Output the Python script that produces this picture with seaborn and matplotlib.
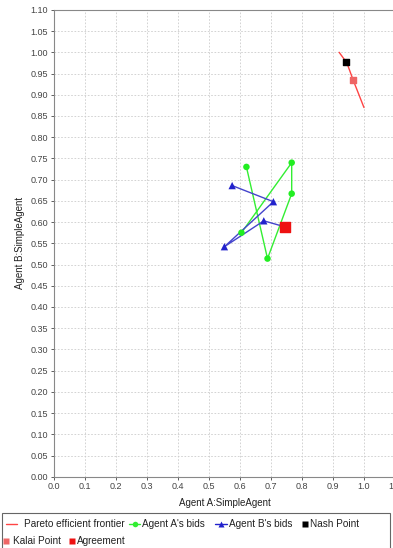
import numpy as np
import pandas as pd
import matplotlib
matplotlib.use("Agg")
import matplotlib.pyplot as plt
from matplotlib.lines import Line2D
from matplotlib.patches import Rectangle
import seaborn as sns

# data
pareto_x = [0.920, 0.945, 0.965, 1.000]
pareto_y = [1.000, 0.975, 0.935, 0.870]

a_bids_x = [0.621, 0.689, 0.767, 0.767, 0.605]
a_bids_y = [0.730, 0.514, 0.667, 0.740, 0.575]

b_bids_x = [0.575, 0.708, 0.550, 0.677]
b_bids_y = [0.686, 0.648, 0.542, 0.603]

nash = (0.942, 0.978)
kalai = (0.964, 0.935)
agreement = (0.744, 0.589)

sns.set_theme(style="white")
plt.rcParams['font.family'] = ['Liberation Sans', 'DejaVu Sans']

W, H = 393, 548
fig = plt.figure(figsize=(W / 100, H / 100), dpi=100)
ax = fig.add_axes([0.137, 0.130, 0.868, 0.852])

green = '#33ee33'
blue = '#2222cc'

pareto = pd.DataFrame({'x': pareto_x, 'y': pareto_y})
a_df = pd.DataFrame({'x': a_bids_x, 'y': a_bids_y})
b_df = pd.DataFrame({'x': b_bids_x, 'y': b_bids_y})

sns.lineplot(data=pareto, x='x', y='y', sort=False, estimator=None,
             color='#ff4444', lw=1, ax=ax)
sns.lineplot(data=a_df, x='x', y='y', sort=False, estimator=None,
             color=green, lw=1, ax=ax)
sns.scatterplot(data=a_df, x='x', y='y', color='#22ee22', marker='o', s=22,
                edgecolor='none', ax=ax, zorder=4)
# agent B bids end at the agreement
b_line = pd.concat([b_df, pd.DataFrame({'x': [agreement[0]], 'y': [agreement[1]]})],
                   ignore_index=True)
sns.lineplot(data=b_line, x='x', y='y', sort=False, estimator=None,
             color='#4444cc', lw=1, ax=ax)
sns.scatterplot(data=b_df, x='x', y='y', color=blue, marker='^', s=28,
                edgecolor='none', ax=ax, zorder=4)
ax.scatter([nash[0]], [nash[1]], marker='s', s=22, color='black', zorder=5)
ax.scatter([kalai[0]], [kalai[1]], marker='s', s=18, color='#ee6666', zorder=5)
ax.scatter([agreement[0]], [agreement[1]], marker='s', s=50, color='#ee1111', zorder=5)

ax.set_xlim(0, 1.1)
ax.set_ylim(0, 1.1)
ax.set_xticks(np.arange(0, 1.101, 0.1))
ax.set_xticklabels([f'{v:.1f}' for v in np.arange(0, 1.101, 0.1)])
ax.set_yticks(np.arange(0, 1.101, 0.05))
ax.set_yticklabels([f'{v:.2f}' for v in np.arange(0, 1.101, 0.05)])
ax.tick_params(labelsize=6.5, colors='#444444', length=2, width=0.6, pad=2,
               left=True, bottom=True)
ax.grid(True, color='#cccccc', linestyle=(0, (2, 2)), lw=0.6)
for s in ax.spines.values():
    s.set_color('#888888')
    s.set_linewidth(0.8)
ax.set_xlabel('Agent A:SimpleAgent', fontsize=7, color='#222222', labelpad=5)
ax.set_ylabel('Agent B:SimpleAgent', fontsize=7, color='#222222', labelpad=4)

# legend box below the chart, entries laid out like the reference
fig.patches.append(Rectangle((2 / W, -0.01), 388 / W, 1 - 513 / H + 0.01,
                             transform=fig.transFigure, fill=False,
                             edgecolor='#666666', lw=0.8))


def px(x, y):
    return x / W, 1 - y / H


def entry(x0, x1, y, text, tx, color, marker=None, line=True, ms=4.5):
    if line:
        fig.add_artist(Line2D([x0 / W, x1 / W], [1 - y / H] * 2, color=color, lw=1,
                              transform=fig.transFigure))
    if marker:
        fig.add_artist(Line2D([(x0 + x1) / 2 / W], [1 - y / H], ls='none',
                              marker=marker, ms=ms, color=color,
                              markeredgecolor='none', transform=fig.transFigure))
    fig.text(*px(tx, y), text, fontsize=7.2, color='#222222', va='center', ha='left')


r1, r2 = 524, 541
entry(6, 17, r1, "Pareto efficient frontier", 24, '#ff4444')
entry(129, 140, r1, "Agent A's bids", 142, green, marker='o', ms=4)
entry(215, 227, r1, "Agent B's bids", 229, blue, marker='^', ms=4.5)
entry(301, 309, r1, "Nash Point", 310, 'black', marker='s', line=False)
entry(3, 10, r2, "Kalai Point", 13, '#ee6666', marker='s', line=False)
entry(68, 75, r2, "Agreement", 77, '#ee1111', marker='s', line=False)

fig.savefig('out.png', dpi=100)
